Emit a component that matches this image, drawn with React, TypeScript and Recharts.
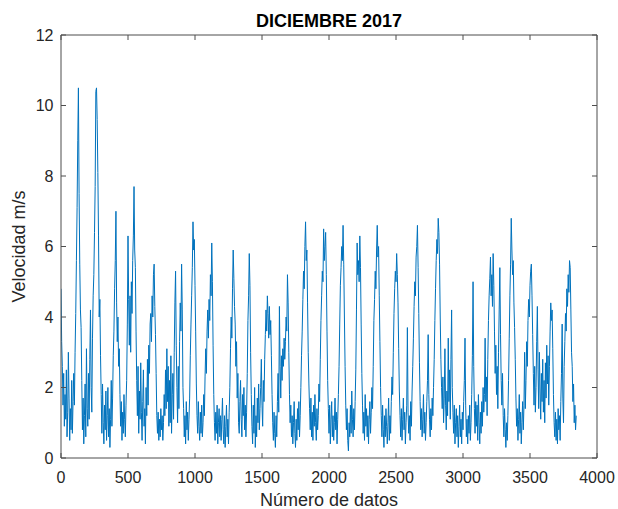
import { LineChart, Line, XAxis, YAxis, Label } from "recharts";

// velocidad del viento (m/s), una lectura cada 5 datos
const tramo0 = [
  4.8, 3.3, 2.6, 1.5, 2.4, 0.9, 1.8, 1.1, 2.5, 0.6, 1.3, 3.0, 1.7, 0.5, 1.4, 0.8, 2.2, 0.7, 1.6, 2.4,
  1.5, 3.0, 4.1, 5.6, 7.1, 9.0, 10.5, 7.5, 5.5, 4.2, 3.7, 2.2, 0.8, 1.7, 0.4, 1.2, 2.1, 0.6, 3.1, 1.4,
  0.9, 2.4, 1.1, 2.8, 4.2, 2.0, 1.3, 3.4, 4.6, 5.2, 6.4, 7.7, 10.4, 10.5, 9.6, 8.1, 6.3, 4.0, 4.5, 2.9,
  1.8, 0.7, 2.1, 1.0, 0.4, 1.5, 0.8, 1.9, 0.5, 1.2, 2.0, 0.6, 1.4, 0.3, 1.1, 2.2, 0.9, 1.7, 2.9, 3.6,
  4.8, 5.6, 7.0, 4.4, 3.3, 4.0, 2.6, 3.1, 1.8, 0.9, 1.6, 0.5, 1.3, 0.7, 1.8, 1.1, 0.6, 1.5, 2.2, 3.8,
  6.3, 4.5, 3.2, 4.6, 3.0, 5.0, 4.1, 5.6, 6.3, 7.7, 5.9, 5.4, 3.6, 2.2, 1.2, 2.6, 0.7, 1.9, 1.1, 2.7,
  1.3, 0.5, 1.6, 2.5, 0.9, 1.4, 0.4, 2.0, 1.2, 2.8, 1.5, 3.2, 2.4, 3.8, 4.1, 3.3, 4.6, 4.0, 5.2, 5.5,
  4.3, 3.5, 2.4, 1.2, 0.7, 1.3, 0.5, 1.1, 0.6, 1.4, 0.8, 1.2, 0.5, 1.0, 1.8, 1.2, 2.5, 1.4, 3.1, 1.6,
  2.6, 0.9, 2.2, 1.0, 2.9, 0.7, 1.8, 2.4, 1.1, 3.0, 4.4, 5.3, 3.2, 2.0, 1.0, 2.6, 1.4, 3.3, 4.4, 3.6,
  5.5, 4.2, 2.0, 1.4, 0.6, 1.2, 0.4, 1.6, 0.8, 1.3, 0.5, 1.1, 1.7, 2.9, 3.8, 4.6, 5.4, 6.7, 5.9, 6.2,
];
const tramo1 = [
  4.9, 3.6, 2.1, 1.2, 0.7, 1.6, 0.9, 0.5, 1.3, 0.7, 1.5, 0.6, 1.0, 1.8, 1.2, 2.3, 3.1, 2.4, 3.6, 4.2,
  3.4, 4.5, 3.9, 5.2, 4.6, 6.1, 5.0, 3.2, 1.8, 1.0, 0.5, 1.3, 0.7, 1.5, 0.4, 1.0, 1.4, 0.6, 1.2, 0.5,
  1.1, 1.7, 0.8, 0.4, 1.2, 0.3, 0.9, 1.5, 0.6, 1.1, 0.4, 1.3, 2.0, 3.1, 4.0, 3.4, 4.8, 5.9, 5.1, 4.3,
  3.8, 2.6, 3.3, 1.7, 2.4, 1.0, 0.7, 1.6, 2.2, 1.1, 0.6, 1.8, 1.2, 2.0, 0.8, 1.5, 0.6, 1.3, 2.4, 3.9,
  4.6, 5.8, 4.9, 3.0, 1.8, 0.9, 0.4, 1.5, 0.7, 2.0, 0.3, 1.2, 0.6, 1.7, 1.0, 2.1, 0.8, 1.4, 2.0, 2.8,
  1.5, 0.9, 2.2, 1.6, 2.8, 3.5, 4.2, 3.6, 4.6, 4.1, 3.4, 4.3, 3.5, 3.9, 2.9, 1.8, 1.0, 0.5, 1.3, 0.7,
  0.3, 1.2, 0.6, 1.6, 2.4, 1.3, 4.3, 2.6, 1.7, 2.9, 2.2, 3.1, 2.6, 3.4, 2.8, 3.3, 4.0, 3.6, 5.2, 4.4,
  3.0, 1.8, 1.0, 1.5, 0.6, 1.2, 0.4, 1.0, 1.6, 0.7, 0.3, 1.1, 0.5, 1.4, 0.8, 1.6, 0.6, 1.2, 2.0, 2.9,
  3.6, 4.5, 5.3, 4.8, 6.0, 6.7, 5.6, 5.9, 4.4, 3.0, 2.1, 1.4, 0.8, 1.7, 0.6, 1.3, 0.5, 1.5, 0.9, 1.8,
  1.0, 0.5, 1.4, 0.8, 1.2, 2.1, 1.6, 2.8, 3.9, 4.6, 5.3, 5.0, 6.5, 5.6, 6.0, 6.4, 5.2, 3.6, 2.2, 1.4,
];
const tramo2 = [
  0.7, 1.5, 0.4, 1.1, 1.6, 0.6, 1.2, 0.5, 1.0, 1.7, 0.8, 1.3, 0.4, 1.1, 1.8, 2.6, 3.8, 4.9, 5.4, 6.0,
  5.6, 6.6, 5.5, 4.0, 2.6, 1.5, 0.8, 1.4, 0.5, 0.2, 1.0, 0.6, 1.5, 0.7, 1.9, 1.1, 0.6, 1.4, 0.8, 1.6,
  2.5, 4.2, 6.1, 5.2, 5.6, 5.0, 6.3, 5.4, 3.8, 2.4, 1.5, 0.7, 1.3, 0.5, 1.8, 0.9, 1.4, 0.6, 1.2, 0.4,
  1.1, 1.6, 0.7, 1.3, 2.0, 1.4, 2.6, 3.9, 4.5, 5.3, 4.8, 5.9, 6.6, 5.7, 6.0, 4.6, 3.3, 2.0, 1.2, 0.6,
  1.5, 0.8, 0.3, 1.2, 0.6, 1.4, 0.9, 0.4, 1.0, 1.7, 0.5, 1.2, 0.7, 1.6, 2.3, 1.8, 3.0, 4.1, 4.8, 5.3,
  5.0, 5.8, 5.2, 4.4, 3.1, 1.9, 1.2, 0.6, 1.4, 0.5, 1.1, 1.7, 0.8, 1.3, 0.4, 1.0, 1.5, 3.7, 1.3, 0.7,
  1.2, 0.5, 1.6, 0.9, 1.9, 2.6, 3.4, 4.3, 5.0, 4.6, 5.7, 6.0, 6.6, 5.4, 4.1, 2.7, 1.6, 0.8, 1.4, 0.6,
  1.1, 1.8, 0.7, 1.3, 0.5, 1.0, 1.6, 2.2, 3.5, 1.8, 1.1, 0.6, 1.4, 0.8, 1.7, 1.2, 2.0, 2.8, 3.9, 4.8,
  5.6, 6.2, 5.8, 6.8, 6.4, 5.5, 4.0, 2.8, 2.0, 1.4, 2.3, 1.0, 1.7, 3.1, 1.5, 0.8, 1.9, 1.2, 3.4, 1.6,
  2.5, 1.1, 2.8, 4.2, 2.0, 1.3, 0.7, 1.5, 0.4, 1.0, 1.4, 0.6, 1.2, 0.3, 0.9, 1.5, 0.6, 1.1, 0.4, 1.3,
];
const tramo3 = [
  0.8, 1.6, 2.2, 3.4, 1.5, 0.6, 1.1, 0.4, 1.2, 0.7, 1.5, 0.5, 1.0, 1.8, 2.9, 5.0, 2.6, 1.4, 0.7, 1.6,
  0.9, 1.5, 0.5, 1.8, 1.0, 0.4, 1.3, 0.7, 1.6, 0.9, 2.0, 1.3, 1.8, 3.4, 1.6, 2.3, 1.2, 2.8, 3.9, 4.6,
  5.1, 5.7, 4.6, 5.2, 4.3, 5.8, 4.9, 3.6, 2.4, 3.2, 1.8, 2.6, 1.4, 3.0, 4.2, 5.4, 3.5, 2.2, 1.5, 2.4,
  1.2, 0.6, 1.4, 0.8, 0.3, 1.0, 0.5, 1.2, 2.2, 3.4, 4.6, 5.5, 6.8, 5.9, 5.2, 5.6, 4.4, 3.7, 2.8, 1.7,
  0.9, 1.4, 0.5, 1.1, 1.8, 0.7, 1.3, 0.4, 1.0, 1.6, 0.8, 1.5, 3.0, 1.4, 2.2, 3.3, 2.6, 3.9, 4.5, 4.0,
  4.9, 5.3, 5.5, 4.6, 3.5, 2.4, 1.5, 2.6, 1.3, 2.0, 3.3, 4.3, 2.5, 1.4, 3.0, 1.9, 1.1, 2.4, 1.6, 2.8,
  1.3, 2.2, 1.0, 2.7, 1.7, 3.2, 2.1, 2.9, 1.5, 2.6, 3.6, 4.4, 3.9, 4.2, 3.1, 1.8, 1.0, 0.6, 1.3, 0.5,
  1.1, 0.4, 1.4, 0.8, 1.2, 0.5, 1.6, 2.4, 3.8, 1.7, 1.0, 2.6, 3.3, 4.1, 3.6, 4.8, 4.3, 5.2, 4.7, 5.6,
  5.4, 4.2, 3.0, 2.6, 1.6, 2.1, 1.0, 1.5, 0.8, 1.2,
];

const paso = 5;
const xTicks = [0, 500, 1000, 1500, 2000, 2500, 3000, 3500, 4000];
const yTicks = [0, 2, 4, 6, 8, 10, 12];

const data = [...tramo0, ...tramo1, ...tramo2, ...tramo3].map((v, i) => ({
  n: i * paso,
  v,
}));

const FONT = "'Liberation Sans', Arial, Helvetica, sans-serif";
const AXIS = "#4d4d4d";
const TEXT = "#262626";

const BottomTick = ({ x, y, payload }: any) => (
  <g>
    <line x1={x} x2={x} y1={y} y2={y - 5} stroke={AXIS} />
    <text x={x} y={y + 25} textAnchor="middle" fontSize={16} fill={TEXT} fontFamily={FONT}>
      {payload.value}
    </text>
  </g>
);

const TopTick = ({ x, y }: any) => (
  <line x1={x} x2={x} y1={y} y2={y + 5} stroke={AXIS} />
);

const LeftTick = ({ x, y, payload }: any) => (
  <g>
    <line x1={x} x2={x + 5} y1={y} y2={y} stroke={AXIS} />
    <text x={x - 7.5} y={y + 5.5} textAnchor="end" fontSize={16} fill={TEXT} fontFamily={FONT}>
      {payload.value}
    </text>
  </g>
);

const RightTick = ({ x, y }: any) => (
  <line x1={x} x2={x - 5} y1={y} y2={y} stroke={AXIS} />
);

export default function App() {
  return (
    <div style={{ position: "fixed", left: 0, top: 0, background: "#fff" }}>
      <LineChart
        width={618}
        height={509}
        data={data}
        margin={{ top: 34, right: 20, bottom: 0, left: 0 }}
      >
        <XAxis
          xAxisId="b"
          dataKey="n"
          type="number"
          domain={[0, 4000]}
          ticks={xTicks}
          interval={0}
          allowDataOverflow
          height={51}
          tickSize={0}
          tickMargin={0}
          tickLine={false}
          axisLine={{ stroke: AXIS }}
          tick={<BottomTick />}
        >
          <Label
            content={({ viewBox }: any) => (
              <text
                x={viewBox.x + viewBox.width / 2}
                y={505.5}
                textAnchor="middle"
                fontSize={18}
                fill={TEXT}
                fontFamily={FONT}
              >
                Número de datos
              </text>
            )}
          />
        </XAxis>
        <XAxis
          xAxisId="t"
          orientation="top"
          dataKey="n"
          type="number"
          domain={[0, 4000]}
          ticks={xTicks}
          interval={0}
          allowDataOverflow
          height={1}
          tickSize={0}
          tickMargin={0}
          tickLine={false}
          axisLine={{ stroke: AXIS }}
          tick={<TopTick />}
        >
          <Label
            content={({ viewBox }: any) => (
              <text
                x={viewBox.x + viewBox.width / 2}
                y={27.3}
                textAnchor="middle"
                fontSize={18}
                fontWeight="bold"
                fill="#000"
                fontFamily={FONT}
              >
                DICIEMBRE 2017
              </text>
            )}
          />
        </XAxis>
        <YAxis
          yAxisId="l"
          type="number"
          domain={[0, 12]}
          ticks={yTicks}
          interval={0}
          allowDataOverflow
          width={61}
          tickSize={0}
          tickMargin={0}
          tickLine={false}
          axisLine={{ stroke: AXIS }}
          tick={<LeftTick />}
        >
          <Label
            content={({ viewBox }: any) => {
              const cy = viewBox.y + viewBox.height / 2;
              return (
                <text
                  x={25}
                  y={cy}
                  transform={`rotate(-90 25 ${cy})`}
                  textAnchor="middle"
                  fontSize={18}
                  fill={TEXT}
                  fontFamily={FONT}
                >
                  Velocidad m/s
                </text>
              );
            }}
          />
        </YAxis>
        <YAxis
          yAxisId="r"
          orientation="right"
          type="number"
          domain={[0, 12]}
          ticks={yTicks}
          interval={0}
          allowDataOverflow
          width={1}
          tickSize={0}
          tickMargin={0}
          tickLine={false}
          axisLine={{ stroke: AXIS }}
          tick={<RightTick />}
        />
        {/* serie invisible para que se dibujen los ejes superior y derecho */}
        <Line
          xAxisId="t"
          yAxisId="r"
          dataKey="v"
          stroke="none"
          dot={false}
          activeDot={false}
          legendType="none"
          isAnimationActive={false}
        />
        <Line
          xAxisId="b"
          yAxisId="l"
          type="linear"
          dataKey="v"
          stroke="#0072BD"
          strokeWidth={1}
          dot={false}
          isAnimationActive={false}
        />
      </LineChart>
    </div>
  );
}
